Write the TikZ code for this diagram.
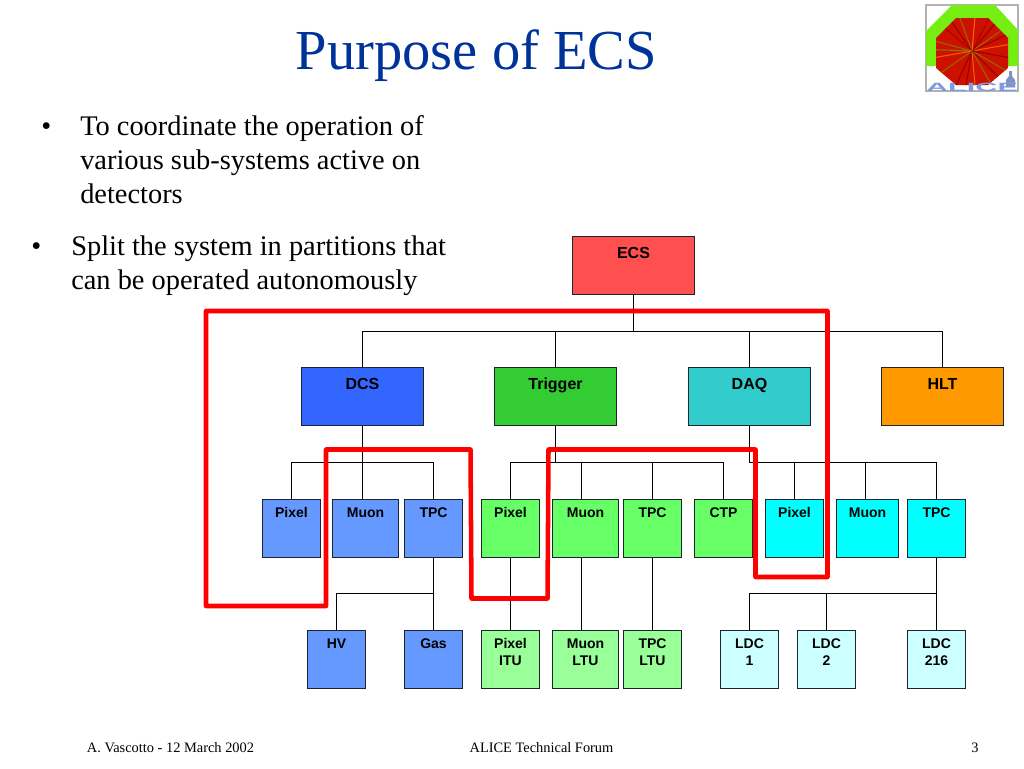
\documentclass[tikz,border=0pt]{standalone}
\usepackage{fontspec}
\setmainfont{Liberation Serif}
\newfontfamily\boxfont{Liberation Sans}
\usetikzlibrary{calc}
\definecolor{titleblue}{HTML}{003399}
\definecolor{edgecol}{HTML}{1A2530}
\definecolor{ecsred}{HTML}{FF5050}
\definecolor{dcsblue}{HTML}{3366FF}
\definecolor{trigreen}{HTML}{33CC33}
\definecolor{daqteal}{HTML}{33CCCC}
\definecolor{hltorange}{HTML}{FF9900}
\definecolor{subblue}{HTML}{6699FF}
\definecolor{subgreen}{HTML}{66FF66}
\definecolor{subcyan}{HTML}{00FFFF}
\definecolor{ltugreen}{HTML}{99FF99}
\definecolor{ldccyan}{HTML}{CCFFFF}
\definecolor{logogreen}{HTML}{77EE11}
\definecolor{logored}{HTML}{CC1100}
\definecolor{logoblue}{HTML}{7F9BE0}
\tikzset{
  topbox/.style={draw=edgecol, line width=1pt, inner sep=0pt, minimum width=91.5pt,
    text height=16.5pt, text depth=27pt, font=\boxfont\bfseries\fontsize{12}{14}\selectfont},
  subbox/.style={draw=edgecol, line width=1pt, inner sep=0pt, minimum width=43.5pt,
    align=center, text height=14pt, text depth=29.5pt, font=\boxfont\bfseries\fontsize{10.5}{12.75}\selectfont},
  twolines/.style={text height=26.75pt, text depth=16.75pt},
  wire/.style={line width=1pt, black},
  partition/.style={red, line width=3.4pt, line join=round},
  bodytext/.style={anchor=base west, inner sep=0pt, align=left, font=\fontsize{21.3}{25.5}\selectfont},
  foot/.style={inner sep=0pt, anchor=base, font=\fontsize{10.8}{12}\selectfont}
}
\begin{document}
\begin{tikzpicture}[x=0.75pt, y=-0.75pt]
  \useasboundingbox (0,0) rectangle (1024,768);
  % title and text
  \node[anchor=base, inner sep=0pt, text=titleblue, font=\fontsize{42.4}{48}\selectfont] (title) at (476.5,69) {Purpose of ECS};
  \node[bodytext] (bulletA) at (41,135) {•};
  \node[bodytext] (textA) at (80,203) {To coordinate the operation of\\various sub-systems active on\\detectors};
  \node[bodytext] (bulletB) at (31,255) {•};
  \node[bodytext] (textB) at (71,289) {Split the system in partitions that\\can be operated autonomously};
  % footer
  \node[foot] (footA) at (170.5,752) {A. Vascotto - 12 March 2002};
  \node[foot] (footB) at (541.5,752) {ALICE Technical Forum};
  \node[foot] (footC) at (975,752) {3};
  % logo
  \draw[gray!60, line width=0.8pt] (926,5) rectangle (1018,91);
  \fill[logogreen] (926,31) -- (952,5) -- (995,5) -- (1018,30) -- (1018,66) -- (926,66) -- cycle;
  \begin{scope}
    \clip (936,38) -- (956,18) -- (988,18) -- (1008,38) -- (1008,68) -- (988,85) -- (956,85) -- (936,68) -- cycle;
    \fill[logored] (930,10) rectangle (1012,90);
    \foreach \a/\c in {10/orange!70!red, 25/red!60!black, 35/green!40!red, 50/red!60!black, 62/red!70!black, 85/orange!80!red, 110/green!40!red, 125/red!60!black, 140/red!70!black,
      165/green!40!red, 178/green!50!red, 190/orange!70!red, 215/green!40!red, 245/red!60!black, 260/red!60!black, 275/orange!70!red, 300/green!40!red, 315/red!60!black, 330/green!40!red, 350/red!60!black} {
      \draw[\c, line width=0.8pt] (972,51) -- ++(-\a:45);
    }
  \end{scope}
  \fill[logoblue!70!gray] (1006,87) -- (1006,80) -- (1009,76) -- (1009,71) -- (1012,71) -- (1012,76) -- (1015,80) -- (1015,87) -- cycle;
  \node[anchor=base, inner sep=0pt, text=logoblue, xscale=2.55, transform shape, font=\boxfont\bfseries\fontsize{9}{9}\selectfont] (alice) at (972,91) {ALICE};
  % top row
  \node[topbox, fill=ecsred, anchor=north] (ecs) at (633.5,235.5) {ECS};
  \foreach \n/\x/\c/\t in {dcs/362.5/dcsblue/DCS, trigger/555.5/trigreen/Trigger, daq/749.5/daqteal/DAQ, hlt/942.5/hltorange/HLT} {
    \node[topbox, fill=\c, anchor=north] (\n) at (\x,366.5) {\t};
  }
  % second row
  \foreach \n/\x/\w/\c/\t in {pixA/291.5/43.5/subblue/Pixel, muonA/365.5/49.5/subblue/Muon, tpcA/433.5/43.5/subblue/TPC,
    pixB/510.5/43.5/subgreen/Pixel, muonB/585.5/49.5/subgreen/Muon, tpcB/652.5/43.5/subgreen/TPC, ctp/723.5/43.5/subgreen/CTP,
    pixC/794.5/43.5/subcyan/Pixel, muonC/867.5/46.5/subcyan/Muon, tpcC/936.5/43.5/subcyan/TPC} {
    \node[subbox, fill=\c, minimum width=\w pt, anchor=north] (\n) at (\x,498.5) {\t};
  }
  % third row
  \foreach \n/\x/\t in {hv/336.5/HV, gas/433.5/Gas} {
    \node[subbox, fill=subblue, anchor=north] (\n) at (\x,629.5) {\t};
  }
  \foreach \n/\x/\w/\c/\t in {pixitu/510.5/43.5/ltugreen/Pixel\\ITU, muonltu/585.5/49.5/ltugreen/Muon\\LTU, tpcltu/652.5/43.5/ltugreen/TPC\\LTU,
    ldcA/749.5/43.5/ldccyan/LDC\\1, ldcB/826.5/43.5/ldccyan/LDC\\2, ldcC/936.5/43.5/ldccyan/LDC\\216} {
    \node[subbox, twolines, fill=\c, minimum width=\w pt, anchor=north] (\n) at (\x,629.5) {\t};
  }
  % connectors
  \coordinate (ecsbus) at (633.5,331.5);
  \draw[wire] (ecs) -- (ecsbus);
  \foreach \n in {dcs,trigger,daq,hlt} {
    \draw[wire] (ecsbus) -| (\n);
  }
  \coordinate (dcsbus) at (362.5,462.5);
  \draw[wire] (dcs) -- (dcs |- muonA.north);
  \draw[wire] (dcsbus) -| (pixA);
  \draw[wire] (dcsbus) -| (tpcA);
  \coordinate (trigbus) at (555.5,462.5);
  \draw[wire] (trigger) -- (trigbus);
  \foreach \n in {pixB,tpcB,ctp} {
    \draw[wire] (trigbus) -| (\n);
  }
  \draw[wire] (trigbus) -| ([xshift=-3pt]muonB.north);
  \coordinate (daqbus) at (749.5,462.5);
  \draw[wire] (daq) -- (daqbus);
  \foreach \n in {pixC,tpcC} {
    \draw[wire] (daqbus) -| (\n);
  }
  \draw[wire] (daqbus) -| ([xshift=-1.5pt]muonC.north);
  \coordinate (tpcbusA) at (433.5,593.5);
  \draw[wire] (tpcA) -- (gas);
  \draw[wire] (tpcbusA) -| (hv);
  \draw[wire] (pixB) -- (pixitu);
  \draw[wire] ([xshift=-3pt]muonB.south) -- ([xshift=-3pt]muonltu.north);
  \draw[wire] (tpcB) -- (tpcltu);
  \coordinate (tpcbusC) at (936.5,593.5);
  \draw[wire] (tpcC) -- (ldcC);
  \draw[wire] (tpcbusC) -| (ldcA);
  \draw[wire] (tpcbusC) -| (ldcB);
  % partition outline
  \draw[partition] (206,311) -- (827.5,311) -- (827.5,577) -- (755.5,577) -- (755.5,449.5) -- (548.5,449.5)
    -- (547.5,598.5) -- (471.5,598.5) -- (470.5,449.5) -- (326,449.5) -- (326,606) -- (206,606) -- cycle;
\end{tikzpicture}
\end{document}
